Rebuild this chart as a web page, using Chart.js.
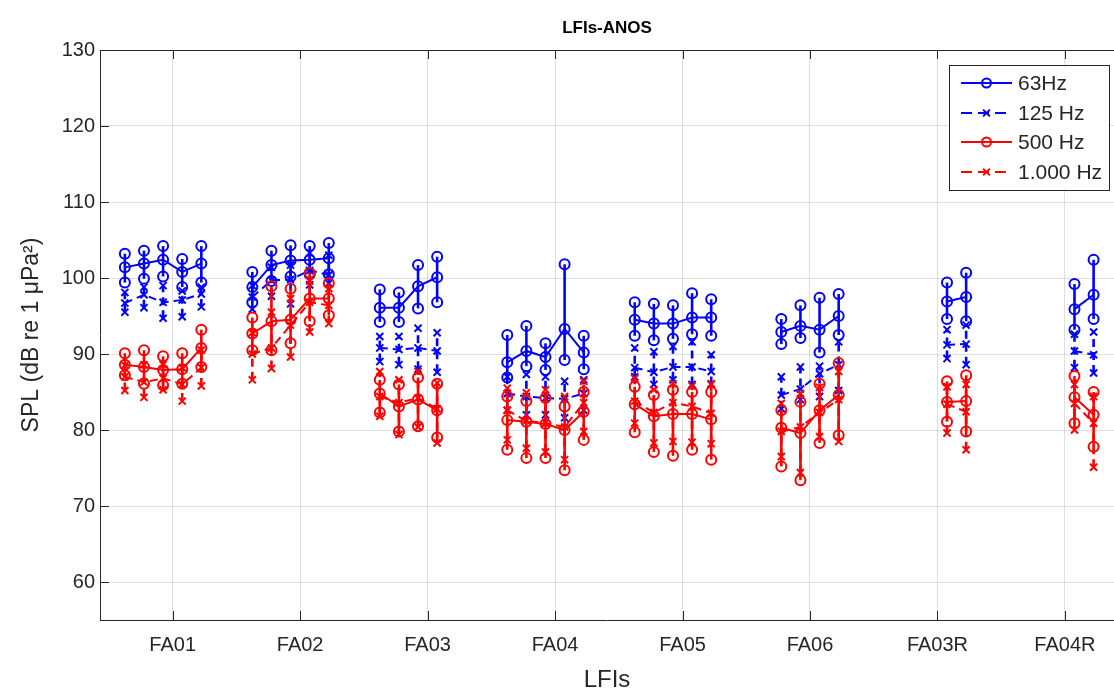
<!DOCTYPE html>
<html>
<head>
<meta charset="utf-8">
<title>LFIs-ANOS</title>
<script src="https://cdn.jsdelivr.net/npm/chart.js@4.4.1/dist/chart.umd.min.js"></script>
<style>
  html, body { margin: 0; padding: 0; background: #ffffff; overflow: hidden; }
  #wrap { width: 1114px; height: 693px; position: relative; }
</style>
</head>
<body>
<div id="wrap"><canvas id="c"></canvas></div>
<script>
// Measurement locations along the x axis
const categories = ['FA01', 'FA02', 'FA03', 'FA04', 'FA05', 'FA06', 'FA03R', 'FA04R'];
const yTicks = [60, 70, 80, 90, 100, 110, 120, 130];

// Index of the first measurement slot used at each location
const firstSlot = [0, 0, 0, 0, 0, 1, 3, 3];
const slotOffsets = [-0.375, -0.225, -0.075, 0.075, 0.225];

// 63 Hz band: mean, lower and upper values (dB re 1 µPa²)
const mean63 = [[101.4, 101.9, 102.4, 100.8, 101.9], [98.8, 101.7, 102.3, 102.4, 102.6], [96.1, 96.1, 98.9, 100.1], [88.9, 90.4, 89.6, 93.3, 90.2], [94.5, 94.0, 94.0, 94.8, 94.8], [92.9, 93.7, 93.2, 95.0], [96.9, 97.5], [95.9, 97.8]];
const high63 = [[103.2, 103.6, 104.2, 102.5, 104.2], [100.8, 103.6, 104.3, 104.2, 104.6], [98.5, 98.1, 101.7, 102.8], [92.5, 93.7, 91.4, 101.8, 92.4], [96.8, 96.6, 96.4, 98.0, 97.2], [94.6, 96.4, 97.4, 97.9], [99.4, 100.7], [99.2, 102.4]];
const low63  = [[99.4, 99.9, 100.2, 98.8, 99.4], [96.8, 99.6, 100.2, 100.5, 100.5], [94.2, 94.2, 96.0, 96.8], [86.9, 88.4, 87.9, 89.2, 88.0], [92.4, 91.8, 92.0, 92.6, 92.4], [91.3, 92.1, 90.2, 92.5], [94.6, 94.3], [93.2, 94.6]];

// 125 Hz band
const mean125 = [[96.7, 97.8, 96.8, 97.1, 97.9], [97.5, 99.7, 99.8, 101.0, 100.4], [90.8, 90.6, 90.8, 90.4], [84.8, 84.4, 84.2, 84.1, 84.8], [88.2, 87.6, 88.3, 88.3, 87.7], [84.6, 85.4, 87.4, 88.6], [91.2, 91.3], [90.4, 89.9]];
const high125 = [[98.1, 98.8, 99.0, 98.3, 98.8], [99.0, 101.4, 101.7, 103.3, 103.0], [92.3, 92.3, 93.4, 92.8], [87.0, 87.3, 87.0, 86.4, 86.6], [90.8, 90.3, 91.0, 91.6, 89.9], [87.0, 88.3, 88.4, 91.6], [93.2, 93.8], [92.6, 92.9]];
const low125  = [[95.5, 96.1, 94.7, 94.9, 96.2], [95.9, 97.6, 96.6, 99.1, 99.3], [89.0, 88.6, 88.0, 87.6], [82.6, 82.0, 82.0, 81.6, 82.6], [87.0, 86.0, 86.6, 86.0, 86.0], [82.8, 84.0, 84.4, 85.2], [89.4, 88.6], [88.2, 87.5]];

// 500 Hz band
const mean500 = [[88.6, 88.3, 87.9, 88.0, 90.8], [92.7, 94.3, 94.5, 97.3, 97.3], [84.8, 83.1, 84.0, 82.6], [81.3, 81.1, 80.8, 80.0, 82.4], [83.4, 81.8, 82.1, 82.1, 81.4], [80.3, 79.6, 82.6, 84.6], [83.7, 83.8], [84.3, 82.0]];
const high500 = [[90.1, 90.5, 89.7, 90.1, 93.2], [94.8, 98.9, 98.6, 100.7, 99.3], [86.6, 86.0, 86.9, 86.1], [84.4, 83.8, 84.2, 83.1, 85.0], [85.7, 84.6, 85.3, 85.0, 85.0], [82.6, 83.7, 86.1, 88.8], [86.4, 87.2], [87.1, 85.0]];
const low500  = [[87.2, 86.1, 85.9, 86.1, 88.3], [90.5, 90.5, 91.4, 94.3, 95.1], [82.3, 79.8, 80.5, 79.0], [77.4, 76.3, 76.3, 74.7, 78.7], [79.7, 77.1, 76.6, 77.4, 76.1], [75.2, 73.4, 78.3, 79.3], [81.1, 79.8], [80.9, 77.8]];

// 1.000 Hz band
const mean1000 = [[87.0, 86.3, 86.8, 86.0, 88.2], [90.0, 90.8, 93.8, 96.8, 96.4], [84.4, 83.6, 84.2, 82.8], [82.6, 81.2, 80.9, 80.4, 83.6], [83.8, 82.3, 83.6, 83.1, 82.2], [79.8, 80.4, 82.3, 84.0], [83.4, 82.4], [83.5, 80.9]];
const high1000 = [[88.5, 88.6, 88.6, 88.2, 90.5], [92.8, 95.5, 97.3, 99.6, 98.6], [87.7, 86.6, 87.7, 86.2], [85.5, 84.9, 85.3, 84.4, 86.4], [86.8, 85.3, 86.1, 85.8, 86.1], [83.5, 84.8, 85.6, 87.7], [85.7, 86.0], [86.0, 84.4]];
const low1000  = [[85.2, 84.3, 85.3, 83.8, 85.8], [86.6, 88.1, 89.6, 92.9, 94.0], [81.8, 79.4, 80.4, 78.3], [78.7, 77.6, 77.1, 76.1, 79.8], [80.9, 78.3, 78.5, 78.4, 78.2], [76.5, 74.4, 79.1, 78.5], [79.6, 77.4], [80.0, 75.1]];

const BLUE = '#0000ff';
const RED = '#ff0000';
const AXIS = '#262626';
const FONT = "'Liberation Sans', Arial, Helvetica, sans-serif";
const TITLE = 'LFIs-ANOS';

const series = [
  { label: '63Hz',     color: BLUE, marker: 'circle',   dash: [],     mean: mean63,   low: low63,   high: high63 },
  { label: '125 Hz',   color: BLUE, marker: 'crossRot', dash: [8, 5], mean: mean125,  low: low125,  high: high125 },
  { label: '500 Hz',   color: RED,  marker: 'circle',   dash: [],     mean: mean500,  low: low500,  high: high500 },
  { label: '1.000 Hz', color: RED,  marker: 'crossRot', dash: [8, 5], mean: mean1000, low: low1000, high: high1000 }
];

function slotX(g, j) {
  return g + 1 + slotOffsets[firstSlot[g] + j];
}

// Points of one band; a null point after each location keeps the lines separate
function toPoints(groups, withBreaks) {
  const pts = [];
  groups.forEach((vals, g) => {
    vals.forEach((v, j) => pts.push({ x: slotX(g, j), y: v }));
    if (withBreaks) pts.push({ x: g + 1.5, y: null });
  });
  return pts;
}

function toBars(lows, highs) {
  const bars = [];
  lows.forEach((vals, g) => {
    vals.forEach((lo, j) => bars.push({ x: slotX(g, j), lo: lo, hi: highs[g][j] }));
  });
  return bars;
}

const datasets = [];
// Later bands are listed first so they are painted on top
[...series].reverse().forEach(s => {
  const markerStyle = {
    pointStyle: s.marker,
    pointRadius: 5,
    pointHoverRadius: 5,
    pointBorderWidth: 2,
    pointBorderColor: s.color,
    pointBackgroundColor: 'rgba(0,0,0,0)'
  };
  datasets.push(Object.assign({ label: s.label + ' low', data: toPoints(s.low, false), showLine: false }, markerStyle));
  datasets.push(Object.assign({ label: s.label + ' high', data: toPoints(s.high, false), showLine: false }, markerStyle));
  datasets.push(Object.assign({
    label: s.label,
    data: toPoints(s.mean, true),
    showLine: true,
    spanGaps: false,
    borderColor: s.color,
    borderWidth: 2,
    borderDash: s.dash,
    bars: toBars(s.low, s.high)
  }, markerStyle));
});

// Vertical error bars, painted just before each band's mean line
const errorBars = {
  id: 'errorBars',
  beforeDatasetDraw(chart, args) {
    const ds = chart.data.datasets[args.index];
    if (!ds.bars) return;
    const { ctx, chartArea, scales } = chart;
    ctx.save();
    ctx.beginPath();
    ctx.rect(chartArea.left, chartArea.top, chartArea.right - chartArea.left, chartArea.bottom - chartArea.top);
    ctx.clip();
    ctx.strokeStyle = ds.borderColor;
    ctx.lineWidth = 2.6;
    ctx.setLineDash(ds.borderDash || []);
    ds.bars.forEach(b => {
      const px = scales.x.getPixelForValue(b.x);
      ctx.beginPath();
      ctx.moveTo(px, scales.y.getPixelForValue(b.lo));
      ctx.lineTo(px, scales.y.getPixelForValue(b.hi));
      ctx.stroke();
    });
    ctx.restore();
  }
};

// Title, box frame with inward tick marks, and the legend box
const frameAndLegend = {
  id: 'frameAndLegend',
  afterDraw(chart) {
    const { ctx, chartArea, scales } = chart;
    const { left, right, top, bottom } = chartArea;
    ctx.save();

    ctx.fillStyle = '#000000';
    ctx.font = 'bold 17px ' + FONT;
    ctx.textAlign = 'center';
    ctx.textBaseline = 'middle';
    ctx.fillText(TITLE, (left + right) / 2, 28);

    ctx.strokeStyle = AXIS;
    ctx.lineWidth = 1;
    ctx.setLineDash([]);
    ctx.beginPath();
    ctx.moveTo(left, top + 0.5);
    ctx.lineTo(right, top + 0.5);
    const tl = 9;
    scales.y.ticks.forEach(t => {
      const py = Math.round(scales.y.getPixelForValue(t.value)) + 0.5;
      ctx.moveTo(left, py);
      ctx.lineTo(left + tl, py);
    });
    scales.x.ticks.forEach(t => {
      const px = Math.round(scales.x.getPixelForValue(t.value)) + 0.5;
      ctx.moveTo(px, bottom);
      ctx.lineTo(px, bottom - tl);
      ctx.moveTo(px, top);
      ctx.lineTo(px, top + tl);
    });
    ctx.stroke();

    // legend
    const bx = 949.5, by = 65.5, bw = 160, bh = 125;
    ctx.fillStyle = '#ffffff';
    ctx.fillRect(bx, by, bw, bh);
    ctx.strokeStyle = AXIS;
    ctx.lineWidth = 1;
    ctx.strokeRect(bx, by, bw, bh);
    const rowY = [83, 113, 142, 172];
    series.forEach((s, i) => {
      const y = rowY[i];
      ctx.strokeStyle = s.color;
      ctx.lineWidth = 2;
      ctx.setLineDash(s.dash.length ? [11, 6] : []);
      ctx.beginPath();
      ctx.moveTo(961, y);
      ctx.lineTo(1012, y);
      ctx.stroke();
      ctx.setLineDash([]);
      ctx.lineWidth = 2;
      ctx.beginPath();
      if (s.marker === 'circle') {
        ctx.arc(986.5, y, 4.5, 0, Math.PI * 2);
      } else {
        const r = 3.4;
        ctx.moveTo(986.5 - r, y - r); ctx.lineTo(986.5 + r, y + r);
        ctx.moveTo(986.5 - r, y + r); ctx.lineTo(986.5 + r, y - r);
      }
      ctx.stroke();
      ctx.fillStyle = '#262626';
      ctx.font = '21px ' + FONT;
      ctx.textAlign = 'left';
      ctx.textBaseline = 'middle';
      ctx.fillText(s.label, 1018, y + 1);
    });
    ctx.restore();
  }
};

new Chart(document.getElementById('c'), {
  type: 'scatter',
  data: { datasets: datasets },
  plugins: [errorBars, frameAndLegend],
  options: {
    responsive: true,
    maintainAspectRatio: false,
    animation: false,
    events: [],
    layout: { autoPadding: false, padding: { top: 50, left: 0, right: 0, bottom: 0 } },
    plugins: {
      legend: { display: false },
      tooltip: { enabled: false },
      title: { display: false }
    },
    scales: {
      x: {
        type: 'linear',
        min: 0.43,
        max: 8.385,
        afterBuildTicks(scale) {
          scale.ticks = categories.map((c, i) => ({ value: i + 1 }));
        },
        afterFit(scale) {
          scale.height = 73;
          scale.paddingLeft = 0;
          scale.paddingRight = 0;
        },
        ticks: {
          autoSkip: false,
          maxRotation: 0,
          padding: 13,
          color: AXIS,
          font: { family: FONT, size: 20 },
          callback: (v) => categories[Math.round(v) - 1]
        },
        grid: { color: 'rgba(38,38,38,0.15)', lineWidth: 1, drawTicks: false },
        border: { display: true, color: AXIS, width: 1 },
        title: {
          display: true,
          text: 'LFIs',
          color: AXIS,
          font: { family: FONT, size: 24, lineHeight: 1 },
          padding: { top: 0, bottom: 1 }
        }
      },
      y: {
        type: 'linear',
        min: 55,
        max: 130,
        afterBuildTicks(scale) {
          scale.ticks = yTicks.map(v => ({ value: v }));
        },
        afterFit(scale) {
          scale.width = 100;
          scale.paddingTop = 0;
          scale.paddingBottom = 0;
        },
        ticks: {
          padding: 5,
          color: AXIS,
          font: { family: FONT, size: 20 }
        },
        grid: { color: 'rgba(38,38,38,0.15)', lineWidth: 1, drawTicks: false },
        border: { display: true, color: AXIS, width: 1 },
        title: {
          display: true,
          text: 'SPL (dB re 1 μPa²)',
          color: AXIS,
          font: { family: FONT, size: 23, lineHeight: 1 },
          padding: { top: 20, bottom: 0 }
        }
      }
    }
  }
});
</script>
</body>
</html>
